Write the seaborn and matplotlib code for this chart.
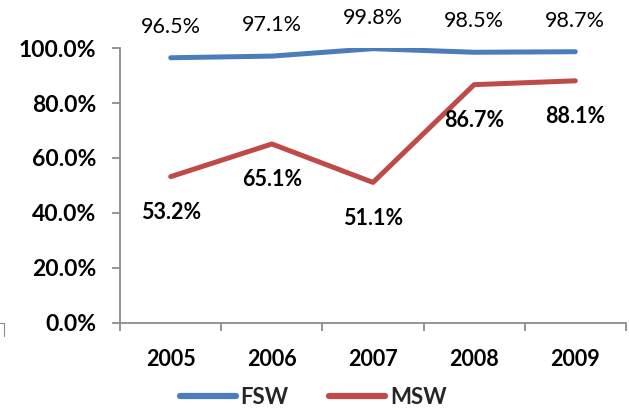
import matplotlib
matplotlib.use("Agg")
import matplotlib.pyplot as plt
from matplotlib.lines import Line2D
import seaborn as sns
import pandas as pd
from matplotlib.ticker import FuncFormatter

years = ["2005", "2006", "2007", "2008", "2009"]
fsw = [96.5, 97.1, 99.8, 98.5, 98.7]
msw = [53.2, 65.1, 51.1, 86.7, 88.1]
series_names = ["FSW", "MSW"]
colors = ["#4A7EBB", "#BE4B48"]
yticks = [0, 20, 40, 60, 80, 100]

sns.set_theme(style="white")
plt.rcParams["font.family"] = ["Lato", "DejaVu Sans"]

df = pd.DataFrame({
    "year": years * 2,
    "value": fsw + msw,
    "series": [series_names[0]] * len(years) + [series_names[1]] * len(years),
})

fig = plt.figure(figsize=(6.29, 4.08), dpi=100)
ax = fig.add_axes([0.191, 0.209, 0.804, 0.673])

sns.lineplot(data=df, x="year", y="value", hue="series", palette=colors,
             linewidth=3.6, ax=ax, sort=False, legend=True)

ax.set_xlim(-0.5, len(years) - 0.5)
ax.set_ylim(0, 100)
ax.set_yticks(yticks)
ax.yaxis.set_major_formatter(FuncFormatter(lambda v, p: f"{v:.1f}%"))
ax.set_xticks(range(len(years)))
ax.set_xticklabels(years)
ax.set_xticks([i - 0.5 for i in range(len(years) + 1)], minor=True)
ax.set_xlabel("")
ax.set_ylabel("")

for s in ["top", "right"]:
    ax.spines[s].set_visible(False)
for s in ["left", "bottom"]:
    ax.spines[s].set_color("#8C8C8C")
    ax.spines[s].set_linewidth(1.3)

ax.tick_params(axis="y", which="major", direction="out", length=6, width=1.3,
               color="#8C8C8C", labelsize=16.5, pad=11, left=True)
ax.tick_params(axis="x", which="major", length=0, labelsize=15.5, pad=19)
ax.tick_params(axis="x", which="minor", direction="out", length=5.5, width=1.3,
               color="#8C8C8C", bottom=True)
for lbl in ax.get_yticklabels() + ax.get_xticklabels():
    lbl.set_fontweight("bold")
    lbl.set_color("black")

for i, v in enumerate(fsw):
    ax.annotate(f"{v:.1f}%", (i, v), xytext=(0, 18), textcoords="offset points",
                ha="center", va="baseline", fontsize=15.5, color="black")
for i, v in enumerate(msw):
    ax.annotate(f"{v:.1f}%", (i, v), xytext=(0, -30.5), textcoords="offset points",
                ha="center", va="baseline", fontsize=15.5, fontweight="bold", color="black")

leg = ax.legend(loc="center", bbox_to_anchor=(313 / 629, 1 - 397 / 408),
                bbox_transform=fig.transFigure, ncol=2,
                frameon=False, handlelength=2.55, columnspacing=1.8,
                handletextpad=0.2, borderpad=0, prop={"weight": "bold", "size": 16})
for line in leg.get_lines():
    line.set_linewidth(4.5)
    line.set_solid_capstyle("round")

# small stray bracket mark at the lower left of the original picture
fig.add_artist(Line2D([0 / 629, 4 / 629, 4 / 629],
                      [1 - 323 / 408, 1 - 323 / 408, 1 - 336 / 408],
                      transform=fig.transFigure, color="#8C8C8C", linewidth=0.8))

fig.savefig("out.png", dpi=100)
